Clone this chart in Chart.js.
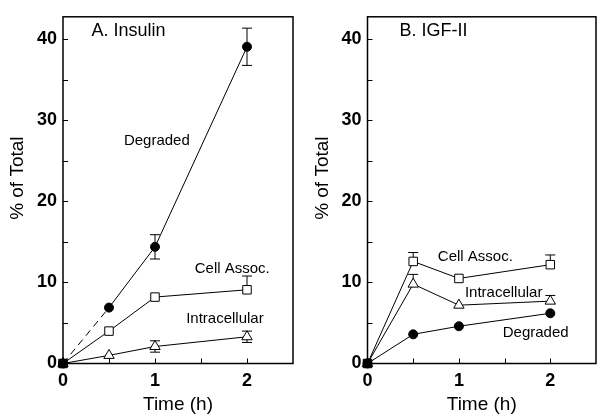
<!DOCTYPE html>
<html>
<head>
<meta charset="utf-8">
<script src="https://cdn.jsdelivr.net/npm/chart.js@4"></script>
<style>
  html, body { margin: 0; padding: 0; background: #fff; }
  body { width: 600px; height: 419px; overflow: hidden; position: relative; }
  canvas { position: absolute; top: 0; }
  #insulin { left: 0; }
  #igf { left: 300px; }
</style>
</head>
<body>
<canvas id="insulin" width="300" height="419"></canvas>
<canvas id="igf" width="303" height="419"></canvas>
<script>
const times = [0, 0.5, 1, 2];

// A. Insulin
const insulinDegraded = [0, 6.9, 14.4, 39.1];
const insulinCellAssoc = [0, 4.0, 8.2, 9.1];
const insulinIntracellular = [0, 1.0, 2.1, 3.3];
const insulinDegradedErr = [0, 0, 1.5, 2.3];
const insulinCellAssocErrUp = [0, 0, 0, 1.7];
const insulinIntracellularErr = [0, 0, 0.7, 0.7];

// B. IGF-II
const igfCellAssoc = [0, 12.6, 10.5, 12.2];
const igfIntracellular = [0, 9.8, 7.2, 7.7];
const igfDegraded = [0, 3.6, 4.6, 6.2];
const igfCellAssocErrUp = [0, 1.1, 0, 1.2];
const igfIntracellularErrUp = [0, 1.2, 0, 0.7];

const yTickLabels = [0, 10, 20, 30, 40];
const yMinorTicks = [5, 10, 15, 20, 25, 30, 35, 40];
const xTickLabels = [0, 1, 2];
const xMinorTicks = [0.5, 1, 1.5, 2];

const family = '"Liberation Sans", Arial, Helvetica, sans-serif';
const zeros = [0, 0, 0, 0];

function series(values, style, errUp, errDown, dashFirst) {
  return {
    data: times.map((t, i) => ({ x: t, y: values[i] })),
    showLine: true,
    borderColor: '#000',
    borderWidth: 1,
    pointStyle: style,
    pointRadius: style === 'circle' ? 4.5 : 6,
    // the overlapping markers at the origin print as one black blob
    pointBackgroundColor: c => (style === 'circle' || c.dataIndex === 0) ? '#000' : '#fff',
    pointBorderColor: '#000',
    pointBorderWidth: 1,
    clip: false,
    errUp: errUp,
    errDown: errDown,
    segment: dashFirst ? { borderDash: c => c.p0DataIndex === 0 ? [7, 5] : undefined } : undefined
  };
}

// frame, inner ticks, error bars and text labels
const notesPlugin = {
  id: 'notes',
  beforeDatasetsDraw(chart) {
    const ctx = chart.ctx;
    const y = chart.scales.y;
    ctx.save();
    ctx.strokeStyle = '#000';
    ctx.lineWidth = 1;
    chart.data.datasets.forEach((ds, i) => {
      const meta = chart.getDatasetMeta(i);
      meta.data.forEach((pt, j) => {
        const v = ds.data[j].y;
        [[ds.errUp, 1], [ds.errDown, -1]].forEach(([arr, dir]) => {
          if (!arr || !arr[j]) return;
          const end = y.getPixelForValue(v + dir * arr[j]);
          ctx.beginPath();
          ctx.moveTo(pt.x, pt.y);
          ctx.lineTo(pt.x, end);
          ctx.moveTo(pt.x - 5, end);
          ctx.lineTo(pt.x + 5, end);
          ctx.stroke();
        });
      });
    });
    ctx.restore();
  },
  afterDraw(chart, args, opts) {
    const ctx = chart.ctx;
    const a = chart.chartArea;
    const xs = chart.scales.x, ys = chart.scales.y;
    ctx.save();
    ctx.strokeStyle = '#000';
    ctx.lineWidth = 1.5;
    ctx.strokeRect(a.left, a.top, a.right - a.left, a.bottom - a.top);
    ctx.lineWidth = 1;
    ctx.beginPath();
    yMinorTicks.forEach(v => {
      const p = Math.round(ys.getPixelForValue(v)) + 0.5;
      ctx.moveTo(a.left, p);
      ctx.lineTo(a.left + 5, p);
    });
    xMinorTicks.forEach(v => {
      const p = Math.round(xs.getPixelForValue(v)) + 0.5;
      ctx.moveTo(p, a.bottom);
      ctx.lineTo(p, a.bottom - 5);
    });
    ctx.stroke();

    ctx.fillStyle = '#000';
    ctx.textBaseline = 'middle';
    opts.items.forEach(n => {
      ctx.font = (n.size || 15) + 'px ' + family;
      ctx.textAlign = n.align || 'center';
      ctx.fillText(n.text, xs.getPixelForValue(n.x), ys.getPixelForValue(n.y));
    });

    ctx.translate(a.left - 45, (a.top + a.bottom) / 2 - 12);
    ctx.rotate(-Math.PI / 2);
    ctx.textAlign = 'center';
    ctx.font = '19px ' + family;
    ctx.fillText('% of Total', 0, 0);
    ctx.restore();
  }
};

function makeOptions(axisWidth, top, items) {
  return {
    responsive: false,
    animation: false,
    layout: { padding: { top: top, right: 1, left: 0, bottom: 0 } },
    plugins: {
      legend: { display: false },
      tooltip: { enabled: false },
      notes: { items: items }
    },
    scales: {
      x: {
        type: 'linear',
        min: 0,
        max: 2.5,
        grid: { display: false, drawTicks: false },
        border: { display: false },
        ticks: {
          stepSize: 1,
          padding: 7,
          color: '#000',
          autoSkip: false,
          maxRotation: 0,
          font: { family: family, size: 18, weight: 'bold' },
          callback: v => xTickLabels.includes(v) ? v : ''
        },
        title: {
          display: true,
          text: 'Time (h)',
          color: '#000',
          font: { family: family, size: 19, weight: 'normal' },
          padding: { top: 0, bottom: 3 }
        },
        afterFit: s => { s.height = 419 - 363.5; }
      },
      y: {
        type: 'linear',
        min: 0,
        max: 42.8,
        grid: { display: false, drawTicks: false },
        border: { display: false },
        ticks: {
          stepSize: 10,
          padding: 6,
          color: '#000',
          autoSkip: false,
          font: { family: family, size: 18, weight: 'bold' },
          callback: v => yTickLabels.includes(v) ? v : ''
        },
        afterFit: s => { s.width = axisWidth; }
      }
    }
  };
}

new Chart(document.getElementById('insulin'), {
  type: 'scatter',
  data: {
    datasets: [
      series(insulinDegraded, 'circle', insulinDegradedErr, insulinDegradedErr, true),
      series(insulinCellAssoc, 'rect', insulinCellAssocErrUp, zeros, false),
      series(insulinIntracellular, 'triangle', insulinIntracellularErr, insulinIntracellularErr, false)
    ]
  },
  options: makeOptions(63, 11, [
    { text: 'A. Insulin', x: 0.31, y: 41.1, align: 'left', size: 18 },
    { text: 'Degraded', x: 1.02, y: 27.5 },
    { text: 'Cell Assoc.', x: 1.84, y: 11.7 },
    { text: 'Intracellular', x: 1.76, y: 5.5 }
  ]),
  plugins: [notesPlugin]
});

new Chart(document.getElementById('igf'), {
  type: 'scatter',
  data: {
    datasets: [
      series(igfDegraded, 'circle', zeros, zeros, false),
      series(igfCellAssoc, 'rect', igfCellAssocErrUp, zeros, false),
      series(igfIntracellular, 'triangle', igfIntracellularErrUp, zeros, false)
    ]
  },
  options: makeOptions(67.5, 10.5, [
    { text: 'B. IGF-II', x: 0.35, y: 41.1, align: 'left', size: 18 },
    { text: 'Cell Assoc.', x: 1.18, y: 13.2 },
    { text: 'Intracellular', x: 1.49, y: 8.7 },
    { text: 'Degraded', x: 1.84, y: 3.8 }
  ]),
  plugins: [notesPlugin]
});
</script>
</body>
</html>
